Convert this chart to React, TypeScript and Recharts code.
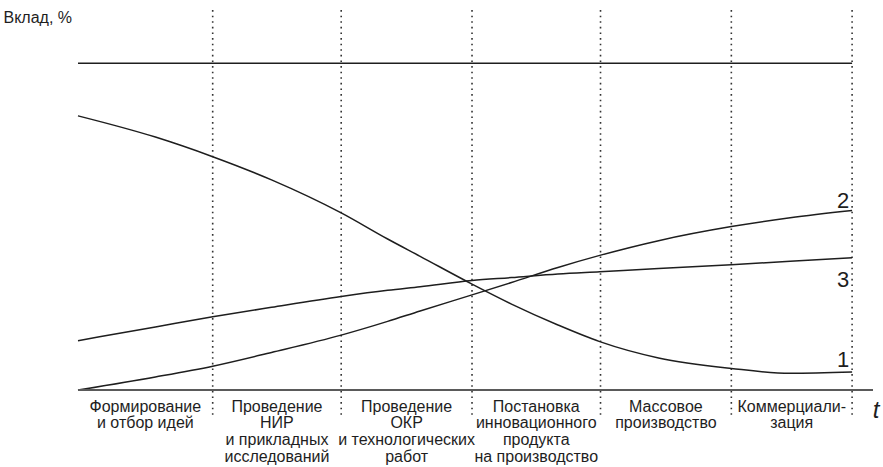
import React from "react";
import {
  LineChart,
  Line,
  XAxis,
  YAxis,
  ReferenceLine,
} from "recharts";

// time axis, % of the whole cycle
const times = [0, 10, 17.4, 25, 34, 40, 44.2, 50.9, 56, 62, 67.4, 75, 84.4, 92, 100];
const curve1 = [83.9, 77.4, 71.4, 64.3, 54.2, 46.2, 40.9, 32.4, 26.3, 19.9, 14.8, 9.8, 6.6, 5.1, 5.5];
const curve2 = [0, 4.0, 7.3, 11.5, 16.8, 21.0, 24.2, 29.1, 32.9, 37.5, 41.2, 45.7, 50.0, 52.7, 54.9];
const curve3 = [15.1, 19.3, 22.4, 25.3, 28.6, 30.5, 31.6, 33.5, 34.4, 35.5, 36.2, 37.2, 38.3, 39.4, 40.5];

const stageBounds = [0, 17.4, 34, 50.9, 67.5, 84.4, 100];
const stageLabels = [
  ["Формирование", "и отбор идей"],
  ["Проведение", "НИР", "и прикладных", "исследований"],
  ["Проведение", "ОКР", "и технологических", "работ"],
  ["Постановка", "инновационного", "продукта", "на производство"],
  ["Массовое", "производство"],
  ["Коммерциали-", "зация"],
];
const totalLevel = 100;

const data = times.map((t, i) => ({
  t,
  c1: curve1[i],
  c2: curve2[i],
  c3: curve3[i],
}));

const stageCenters = stageLabels.map(
  (_, i) => (stageBounds[i] + stageBounds[i + 1]) / 2
);

const FONT = "Arial, 'Liberation Sans', sans-serif";
const INK = "#1e1e1e";

function StageTick({ x, y, payload }: any) {
  const idx = stageCenters.findIndex((c) => Math.abs(c - payload.value) < 0.01);
  const lines = stageLabels[idx] || [];
  return (
    <text
      x={x}
      y={y}
      textAnchor="middle"
      fontFamily={FONT}
      fontSize={16}
      fill={INK}
    >
      {lines.map((ln, i) => (
        <tspan key={i} x={x} dy={i === 0 ? 21.7 : 16.7}>
          {ln}
        </tspan>
      ))}
    </text>
  );
}

function endLabel(name: string, dy: number) {
  return (props: any) => {
    const { x, y, index } = props;
    if (index !== times.length - 1) return null;
    return (
      <text
        key={name}
        x={x - 9}
        y={y + dy}
        textAnchor="middle"
        fontFamily={FONT}
        fontSize={22}
        fill={INK}
      >
        {name}
      </text>
    );
  };
}

export default function App() {
  return (
    <div style={{ position: "absolute", left: 0, top: 0, background: "#fff" }}>
      <LineChart
        width={883}
        height={467}
        data={data}
        margin={{ top: 8, right: 10, left: 78, bottom: 0 }}
      >
        <XAxis
          dataKey="t"
          type="number"
          domain={[0, 102.7]}
          ticks={stageCenters}
          tick={<StageTick />}
          tickLine={false}
          tickSize={0}
          tickMargin={0}
          height={77}
          axisLine={{ stroke: "#5a5a5a", strokeWidth: 2 }}
          interval={0}
        />
        <YAxis
          type="number"
          domain={[0, 116.9]}
          allowDataOverflow
          tick={false}
          tickLine={false}
          width={0}
          axisLine={{ stroke: "#333", strokeWidth: 1.6 }}
        />
        {stageBounds.slice(1).map((b) => (
          <ReferenceLine
            key={b}
            segment={[
              { x: b, y: -7.6 },
              { x: b, y: 116.9 },
            ]}
            stroke="#333"
            strokeWidth={1.6}
            strokeDasharray="1.6 4"
            ifOverflow="visible"
          />
        ))}
        <ReferenceLine
          segment={[
            { x: 0, y: totalLevel },
            { x: 100, y: totalLevel },
          ]}
          stroke={INK}
          strokeWidth={1.5}
          ifOverflow="visible"
        />
        <Line
          dataKey="c1"
          type="monotone"
          stroke={INK}
          strokeWidth={1.5}
          dot={false}
          isAnimationActive={false}
          label={endLabel("1", -5)}
        />
        <Line
          dataKey="c2"
          type="monotone"
          stroke={INK}
          strokeWidth={1.5}
          dot={false}
          isAnimationActive={false}
          label={endLabel("2", -3)}
        />
        <Line
          dataKey="c3"
          type="monotone"
          stroke={INK}
          strokeWidth={1.5}
          dot={false}
          isAnimationActive={false}
          label={endLabel("3", 29)}
        />
        <text x={72} y={23} textAnchor="end" fontFamily={FONT} fontSize={16} fill={INK}>
          Вклад, %
        </text>
        <text
          x={876}
          y={418}
          textAnchor="middle"
          fontFamily={FONT}
          fontSize={24}
          fontStyle="italic"
          fill={INK}
        >
          t
        </text>
      </LineChart>
    </div>
  );
}
